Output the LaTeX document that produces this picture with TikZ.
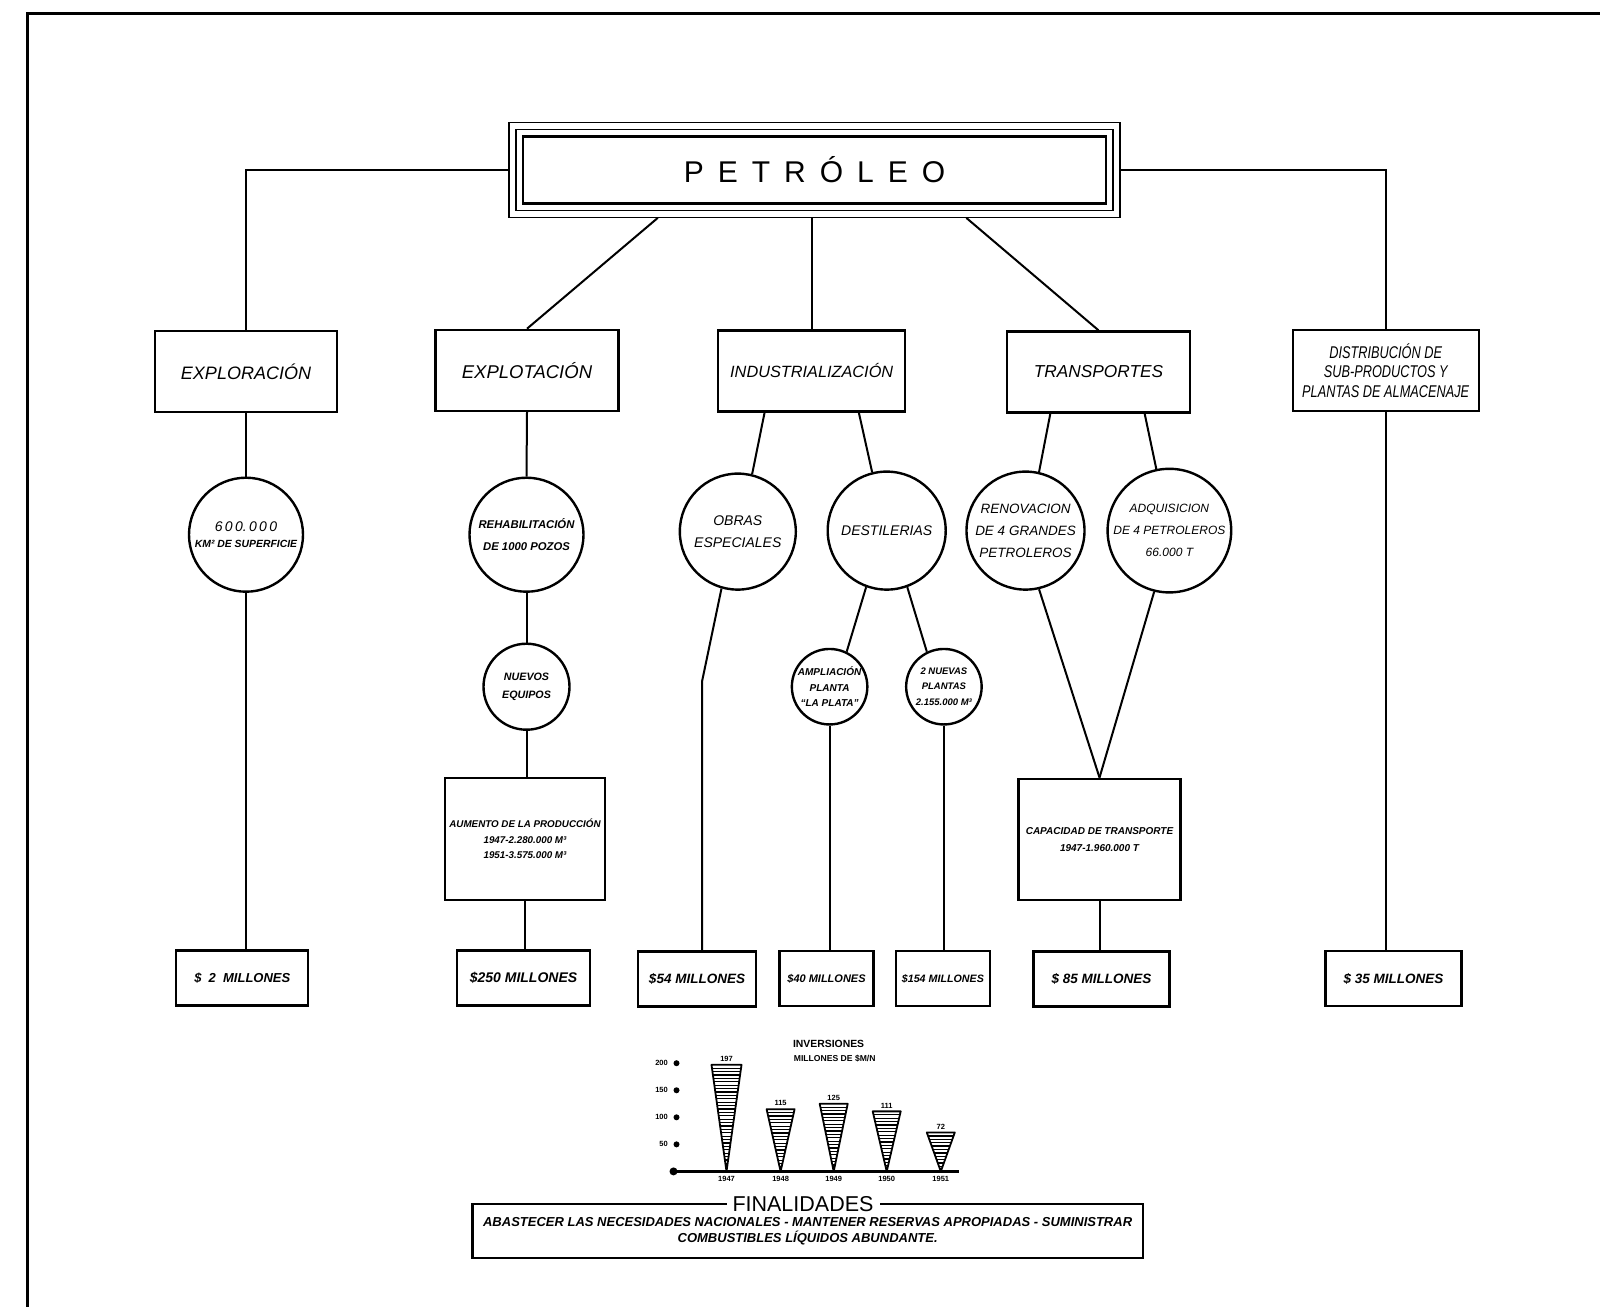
\documentclass[tikz,border=0pt]{standalone}
\usepackage{fontspec}
\setmainfont{Liberation Sans}
\newfontfamily\cond{Liberation Sans}[FakeStretch=0.75]
\usetikzlibrary{calc}
\newcommand\myfs[2]{\fontsize{#1}{#2}\selectfont}
\begin{document}
\begin{tikzpicture}[x=1pt,y=-1pt,
  lvl/.style={draw, line width=2.4pt, inner sep=2pt, align=center},
  circ/.style={draw, circle, line width=2.4pt, inner sep=0pt, align=center},
  mbox/.style={draw, line width=2.2pt, inner sep=0pt, align=center, minimum height=55pt},
  conn/.style={line width=2pt},
  chartlab/.style={font=\myfs{7.5}{9}\bfseries, inner sep=1pt}]
\fill[white] (0,0) rectangle (1600,1307);
\useasboundingbox (0,0) rectangle (1600,1307);
% outer frame
\draw[line width=3pt] (1600,13) -- (27,13) -- (27,1307);

% PETROLEO
\node[draw, line width=1.2pt, minimum width=611pt, minimum height=95pt] (petout) at (814.5,169.8) {};
\node[draw, line width=1.2pt, minimum width=597pt, minimum height=81pt] (petmid) at (814.5,169.8) {};
\node[draw, line width=2.6pt, minimum width=583pt, minimum height=67pt, font=\myfs{30}{36}] (pet) at (814.5,169.8)
  {P\hspace{14pt}E\hspace{14pt}T\hspace{14pt}R\hspace{14pt}Ó\hspace{14pt}L\hspace{14pt}E\hspace{14pt}O};

% level 1
\node[lvl, minimum width=182pt, minimum height=81pt, font=\myfs{18}{22}\itshape] (explor) at (246,371.4) {EXPLORACIÓN};
\node[lvl, minimum width=183pt, minimum height=81pt, font=\myfs{18.5}{22}\itshape] (explt) at (527,370.4) {EXPLOTACIÓN};
\node[lvl, minimum width=187pt, minimum height=81pt, font=\myfs{16.3}{22}\itshape] (indus) at (811.7,371) {INDUSTRIALIZACIÓN};
\node[lvl, minimum width=183pt, minimum height=81pt, font=\myfs{17.3}{22}\itshape] (trans) at (1098.5,372) {TRANSPORTES};
\node[lvl, minimum width=186pt, minimum height=81pt, font=\cond\myfs{17}{19.4}\itshape] (dist) at (1385.7,370.4) {DISTRIBUCIÓN DE\\SUB-PRODUCTOS Y\\PLANTAS DE ALMACENAJE};

% level 2 circles
\node[circ, minimum size=114pt, font=\myfs{10.4}{15.3}] (c600) at (246,534.7)
  {{\myfs{14}{15.3}\itshape 6\,0\,0.\,0\,0\,0}\\{\bfseries\itshape KM² DE SUPERFICIE}};
\node[circ, minimum size=114pt, font=\myfs{11.3}{22.4}\bfseries\itshape] (rehab) at (526.5,534.7) {REHABILITACIÓN\\DE 1000 POZOS};
\node[circ, minimum size=116pt, font=\myfs{14}{21.4}\itshape] (obras) at (737.8,531.6) {OBRAS\\ESPECIALES};
\node[circ, minimum size=118pt, font=\myfs{14}{20}\itshape] (destil) at (886.7,530.6) {DESTILERIAS};
\node[circ, minimum size=118pt, font=\myfs{13.5}{22}\itshape] (renov) at (1025.5,530.6) {RENOVACION\\DE 4 GRANDES\\PETROLEROS};
\node[circ, minimum size=118pt, font=\myfs{12}{22}\itshape] (adq) at (1169.4,530.6) {ADQUISICION\\DE 4 PETROLEROS\\66.000 T};

% level 3 circles
\node[circ, minimum size=86pt, font=\myfs{10.7}{17.3}\bfseries\itshape] (nuevos) at (526.5,686.7) {NUEVOS\\EQUIPOS};
\node[circ, minimum size=75.5pt, font=\myfs{10}{15.3}\bfseries\itshape] (ampl) at (829.6,686.7) {AMPLIACIÓN\\PLANTA\\“LA PLATA”};
\node[circ, minimum size=75.5pt, font=\myfs{9.5}{15.3}\bfseries\itshape] (plantas) at (943.9,686.7) {2 NUEVAS\\PLANTAS\\2.155.000 M³};

% boxes
\node[lvl, minimum width=160pt, minimum height=122pt, font=\myfs{9.8}{15.7}\bfseries\itshape] (aum) at (525,838.8)
  {AUMENTO DE LA PRODUCCIÓN\\1947-2.280.000 M³\\1951-3.575.000 M³};
\node[lvl, minimum width=162pt, minimum height=121pt, font=\myfs{10}{17}\bfseries\itshape] (cap) at (1099.5,839.3)
  {CAPACIDAD DE TRANSPORTE\\1947-1.960.000 T};

% millones
\node[mbox, minimum width=132pt, font=\myfs{13}{16}\bfseries\itshape] (m2) at (242.3,978) {\$\ \ 2\ \ MILLONES};
\node[mbox, minimum width=133pt, font=\myfs{14}{16}\bfseries\itshape] (m250) at (523.5,978) {\$250 MILLONES};
\node[mbox, minimum width=118pt, font=\myfs{13.5}{16}\bfseries\itshape] (m54) at (697,979) {\$54 MILLONES};
\node[mbox, minimum width=94pt, font=\myfs{11}{16}\bfseries\itshape] (m40) at (826.5,978.5) {\$40 MILLONES};
\node[mbox, minimum width=94pt, font=\myfs{10.7}{16}\bfseries\itshape] (m154) at (942.9,978.5) {\$154 MILLONES};
\node[mbox, minimum width=136pt, font=\myfs{13.5}{16}\bfseries\itshape] (m85) at (1101.5,979) {\$\ 85\ MILLONES};
\node[mbox, minimum width=136pt, font=\myfs{13.5}{16}\bfseries\itshape] (m35) at (1393.4,978.5) {\$\ 35\ MILLONES};

\coordinate (kink) at (702,681.6);

% connectors
\draw[conn] (petout.west) -| (explor.north);
\draw[conn] (petout.east) -| (dist.north);
\draw[conn] ($(petout.south west)!0.244!(petout.south east)$) -- (explt.north);
\draw[conn] (indus.north |- petout.south) -- (indus.north);
\draw[conn] ($(petout.south west)!0.748!(petout.south east)$) -- (trans.north);

\draw[conn] (explor.south) -- (c600.north);
\draw[conn] (c600.south) -- (c600.south |- m2.north);
\draw[conn] (explt.south) -- (rehab.north);
\draw[conn] (rehab.south) -- (nuevos.north);
\draw[conn] (nuevos.south) -- (nuevos.south |- aum.north);
\draw[conn] (aum.south) -- (aum.south |- m250.north);
\draw[conn] ($(indus.south west)!0.251!(indus.south east)$) -- (obras.76);
\draw[conn] ($(indus.south west)!0.749!(indus.south east)$) -- (destil.104);
\draw[conn] (obras.254) -- (kink) -- (kink |- m54.north);
\draw[conn] (destil.250) -- (ampl.64);
\draw[conn] (destil.290) -- (plantas.116);
\draw[conn] (ampl.south) -- (ampl.south |- m40.north);
\draw[conn] (plantas.south) -- (plantas.south |- m154.north);
\draw[conn] ($(trans.south west)!0.24!(trans.south east)$) -- (renov.77);
\draw[conn] ($(trans.south west)!0.749!(trans.south east)$) -- (adq.102);
\draw[conn] (renov.283) -- (cap.north);
\draw[conn] (adq.256) -- (cap.north);
\draw[conn] (cap.south) -- (cap.south |- m85.north);
\draw[conn] (dist.south) -- (dist.south |- m35.north);

% chart
\node[font=\myfs{10.4}{12}\bfseries] (inv) at (828.6,1043.9) {INVERSIONES};
\node[font=\myfs{8.6}{10}\bfseries] (invu) at (834.7,1058.2) {MILLONES DE \$M/N};
\foreach \v in {200,150,100,50} {
  \fill (676.5,1171.4-\v*0.541) circle (3pt);
  \node[chartlab, anchor=east] (tick\v) at (669,1171.4-\v*0.541) {\v};
}
\draw[line width=3pt] (673.5,1171.4) -- (959.2,1171.4);
\fill (673.5,1171.4) circle (4pt);
\foreach \x/\v/\yr/\hw in {726.5/197/1947/15, 780.6/115/1948/14, 833.7/125/1949/14, 886.7/111/1950/14, 940.8/72/1951/14} {
  \pgfmathsetmacro\ytop{1171.4-\v*0.541}
  \begin{scope}
    \clip (\x-\hw,\ytop) -- (\x+\hw,\ytop) -- (\x,1171.4) -- cycle;
    \foreach \yy in {0,3.4,...,110} \draw[line width=1.3pt] (\x-\hw,\ytop+\yy) -- (\x+\hw,\ytop+\yy);
  \end{scope}
  \draw[line width=1.8pt, line join=round] (\x-\hw,\ytop) -- (\x+\hw,\ytop) -- (\x,1171.4) -- cycle;
  \node[chartlab, anchor=south] (val\yr) at (\x,\ytop-2) {\v};
  \node[chartlab, anchor=north] (yr\yr) at (\x,1175) {\yr};
}

% finalidades
\node[draw, line width=2.2pt, minimum width=670.5pt, minimum height=54pt, inner sep=0pt, align=center,
  font=\myfs{13}{16.5}\bfseries\itshape] (finbox) at (807.65,1231)
  {\rule{0pt}{8pt}ABASTECER LAS NECESIDADES NACIONALES - MANTENER RESERVAS APROPIADAS - SUMINISTRAR\\COMBUSTIBLES LÍQUIDOS ABUNDANTE.};
\node[fill=white, inner xsep=6pt, inner ysep=1pt, font=\myfs{21.5}{24}] (fin) at (803,1204) {FINALIDADES};
\end{tikzpicture}
\end{document}
